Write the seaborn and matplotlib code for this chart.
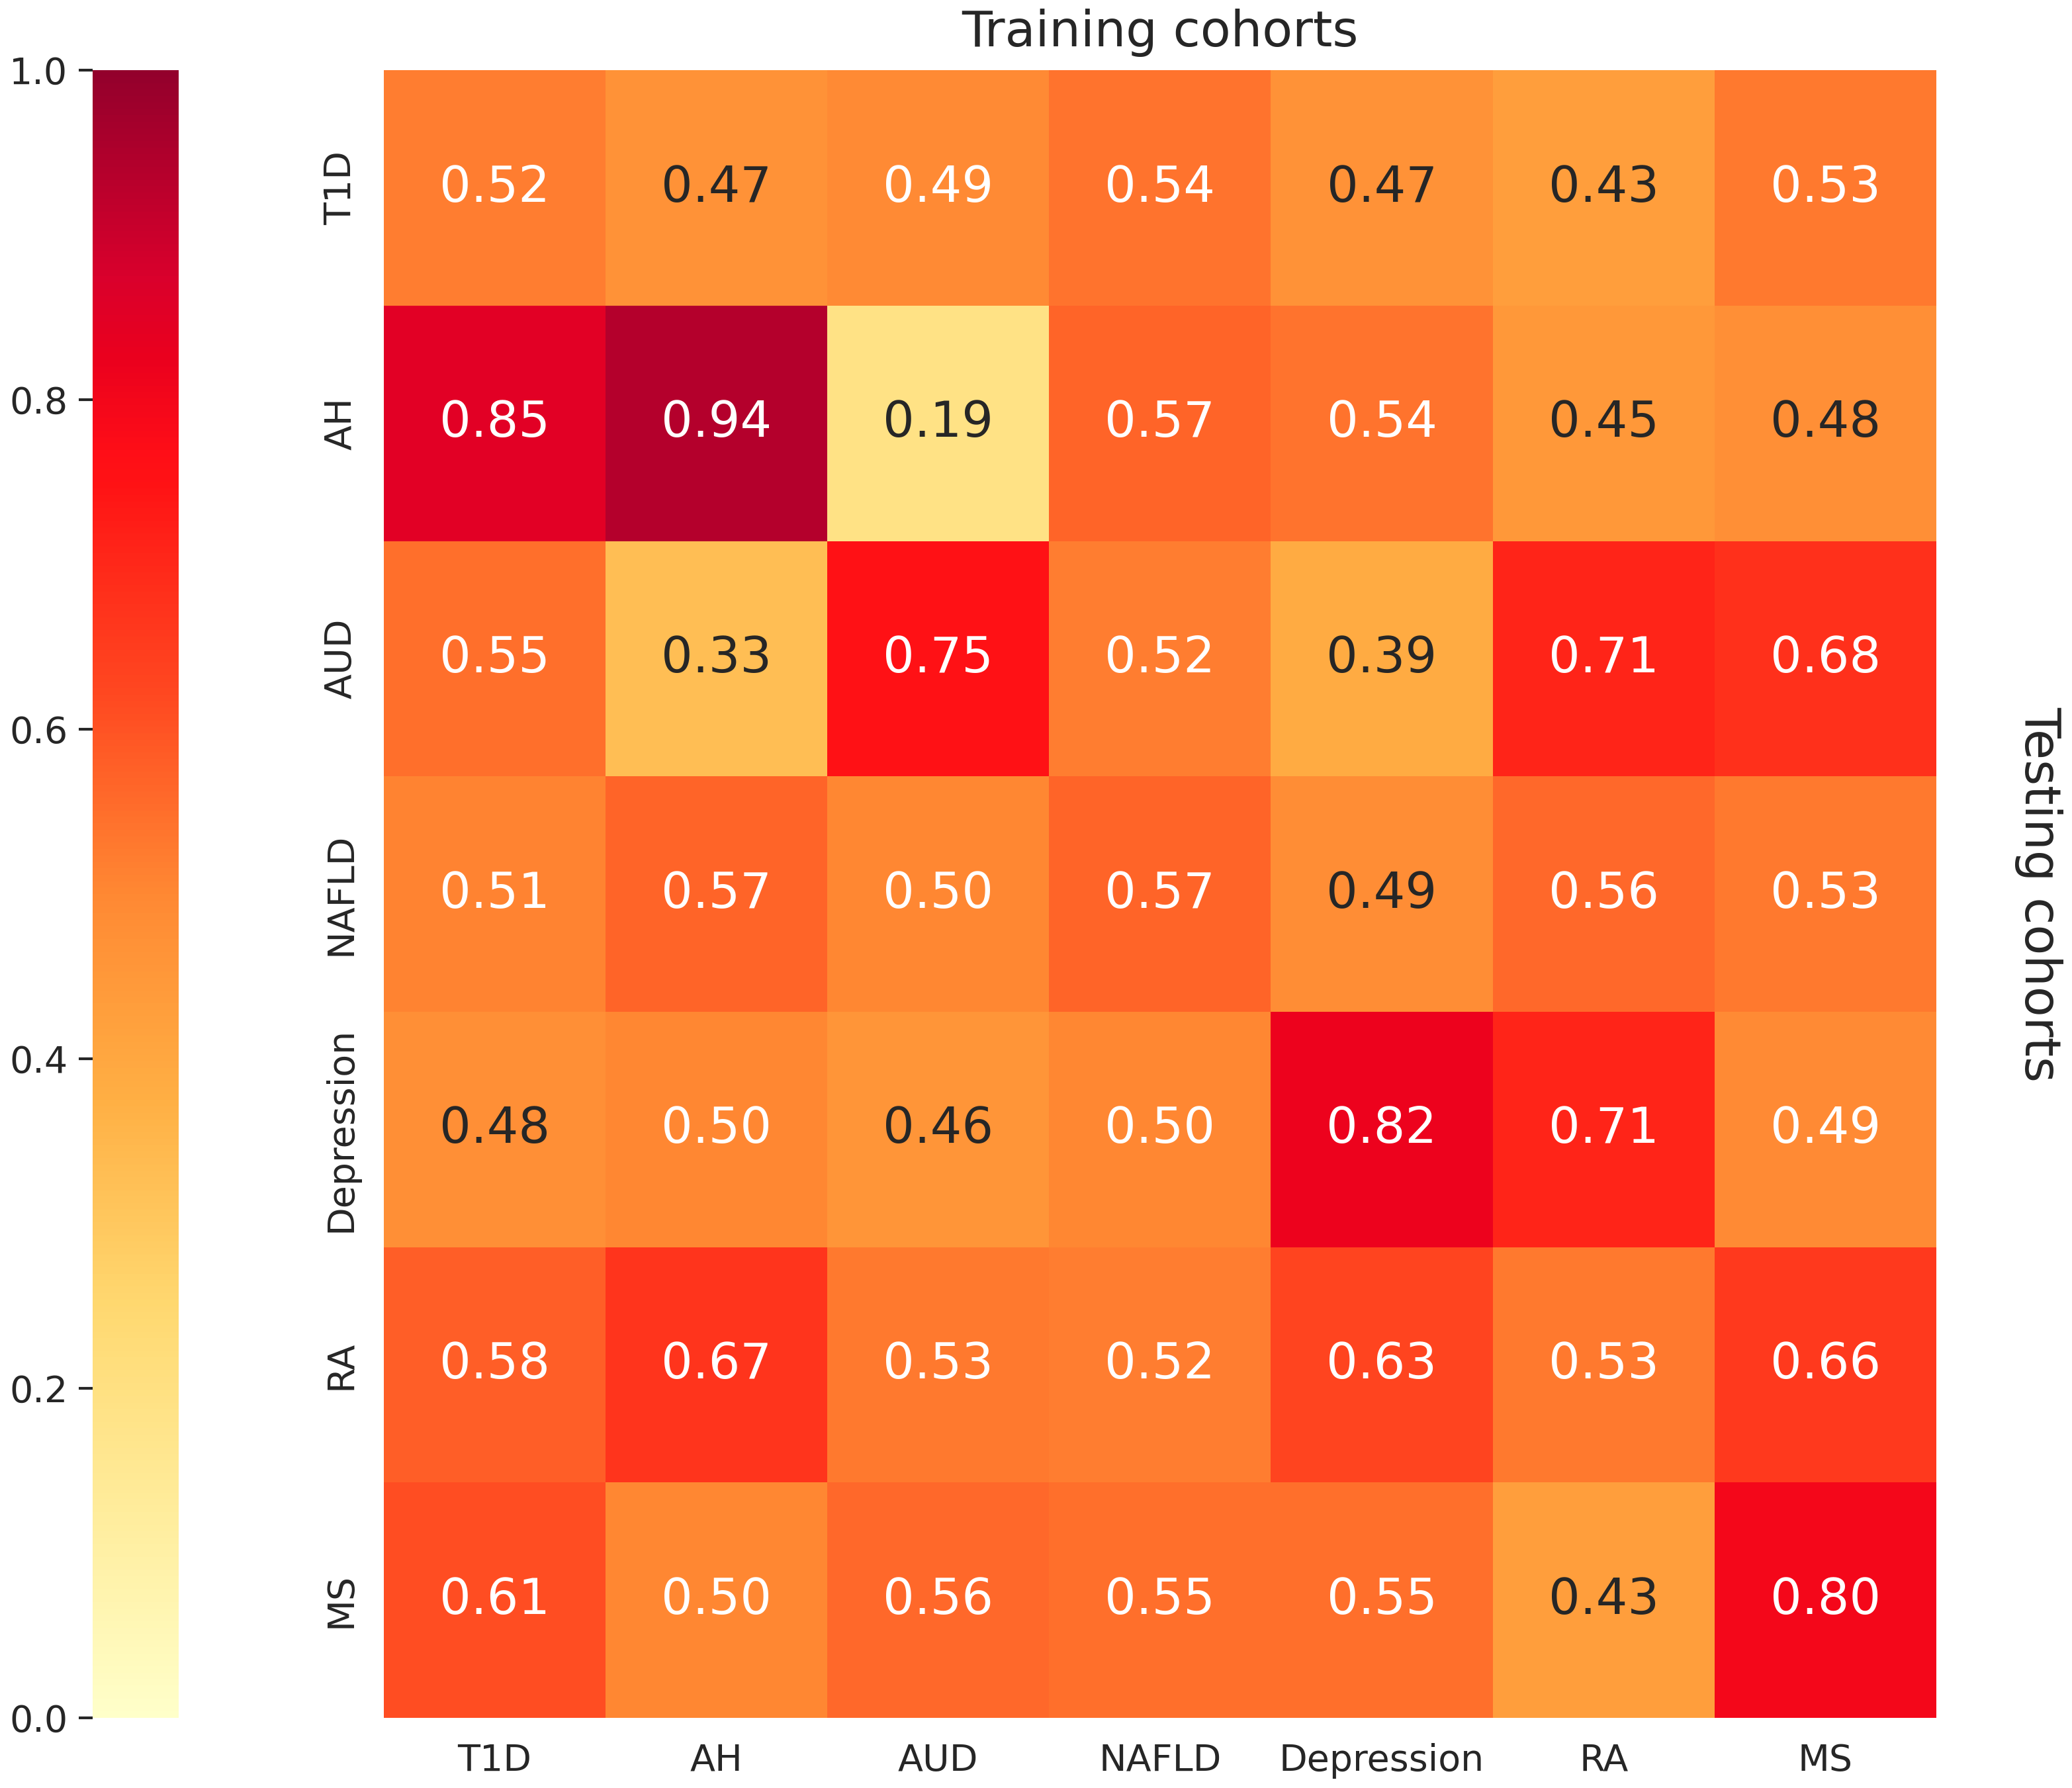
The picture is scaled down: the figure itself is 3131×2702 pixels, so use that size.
"""
Cross-cohort heatmap
====================

"""

import numpy as np
import pandas as pd
import seaborn as sns
import matplotlib as mpl
import matplotlib.pyplot as plt

# -----------------------------
# Data
# -----------------------------
train_cohorts = ['T1D', 'AH', 'AUD', 'NAFLD', 'Depression', 'RA', 'MS']
test_cohorts = ['T1D', 'AH', 'AUD', 'NAFLD', 'Depression', 'RA', 'MS']

row_t1d = [0.52, 0.47, 0.494, 0.54, 0.47, 0.43, 0.53]
row_ah = [0.85, 0.94, 0.19, 0.57, 0.54, 0.45, 0.48]
row_aud = [0.55, 0.33, 0.75, 0.52, 0.39, 0.71, 0.68]
row_nafld = [0.51, 0.57, 0.50, 0.57, 0.486, 0.56, 0.53]
row_depression = [0.48, 0.50, 0.46, 0.50, 0.82, 0.71, 0.494]
row_ra = [0.58, 0.67, 0.53, 0.52, 0.63, 0.53, 0.66]
row_ms = [0.61, 0.50, 0.56, 0.55, 0.55, 0.43, 0.80]

data = pd.DataFrame([row_t1d, row_ah, row_aud, row_nafld, row_depression, row_ra, row_ms],
                    index=test_cohorts, columns=train_cohorts)

# -----------------------------
# Colour map: YlOrRd, a bit brighter like the figure
# -----------------------------
base = mpl.colormaps['YlOrRd'](np.linspace(0, 1, 256))[:, :3]
hsv = mpl.colors.rgb_to_hsv(base)
hsv[:, 1] = np.clip(hsv[:, 1] * 1.05, 0, 1)
hsv[:, 2] = np.clip(hsv[:, 2] * 1.15, 0, 1)
cmap = mpl.colors.ListedColormap(mpl.colors.hsv_to_rgb(hsv))

# -----------------------------
# Plot
# -----------------------------
sns.set_style('white')
plt.rcParams['font.family'] = ['DejaVu Sans']

fig = plt.figure(figsize=(15.655, 13.51), dpi=200)
ax = fig.add_axes([0.1852, 0.0392, 0.7493, 0.9215])
cax = fig.add_axes([0.0447, 0.0392, 0.0415, 0.9215])

sns.heatmap(data, ax=ax, cbar_ax=cax, cmap=cmap, vmin=0, vmax=1,
            annot=True, fmt='.2f', annot_kws={'fontsize': 27})

# text colour as seaborn picks it on the plain YlOrRd map
for txt, val in zip(ax.texts, data.values.ravel()):
    txt.set_color('.15' if val < 0.49 else 'w')

ax.tick_params(axis='both', length=7.5, width=1.5, labelsize=20, pad=6)
ax.tick_params(axis='y', labelrotation=90)
for lab in ax.get_yticklabels():
    lab.set_va('center')
ax.set_title('Training cohorts', fontsize=27, pad=13)
fig.text(0.984, 0.5, 'Testing cohorts', rotation=270, fontsize=27, ha='center', va='center')

cax.yaxis.set_ticks_position('left')
cax.tick_params(length=7.5, width=1.5, labelsize=20, pad=6)
cax.set_yticks([0.0, 0.2, 0.4, 0.6, 0.8, 1.0])

fig.savefig('out.png', dpi=200)
